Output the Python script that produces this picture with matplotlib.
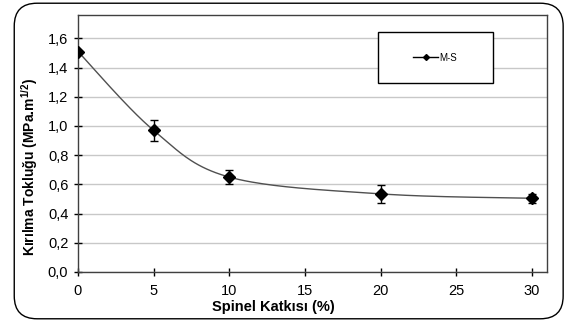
import numpy as np
import matplotlib
matplotlib.use("Agg")
from matplotlib import pyplot as plt
from matplotlib.patches import FancyBboxPatch, Rectangle
from matplotlib.ticker import FuncFormatter

plt.rcParams['font.family'] = ['Liberation Sans', 'DejaVu Sans']
plt.rcParams['mathtext.default'] = 'regular'

# data
spinel = [0, 5, 10, 20, 30]
toughness = [1.51, 0.97, 0.65, 0.535, 0.505]
err = [0.0, 0.07, 0.05, 0.06, 0.03]
series_name = "M-S"


# Excel-like smoothed line (Catmull-Rom through the points)
def smooth(x, y, sx, sy, n=40):
    px = np.asarray(x, float) / sx
    py = np.asarray(y, float) / sy
    P = np.column_stack([px, py])
    P = np.vstack([P[0], P, P[-1]])
    out = []
    for i in range(1, len(P) - 2):
        p0, p1, p2, p3 = P[i - 1], P[i], P[i + 1], P[i + 2]
        c1 = p1 + (p2 - p0) / 6.0
        c2 = p2 - (p3 - p1) / 6.0
        t = np.linspace(0, 1, n)[:, None]
        seg = (1 - t) ** 3 * p1 + 3 * (1 - t) ** 2 * t * c1 + 3 * (1 - t) * t ** 2 * c2 + t ** 3 * p2
        out.append(seg)
    out = np.vstack(out)
    return out[:, 0] * sx, out[:, 1] * sy


fig = plt.figure(figsize=(5.7, 3.22), dpi=100)
box = FancyBboxPatch((0.025, 0.01), 0.963, 0.98, boxstyle="round,pad=0,rounding_size=0.04",
                     transform=fig.transFigure, facecolor='white', edgecolor='black', lw=1.0,
                     mutation_aspect=570 / 322, zorder=-1)
fig.patches.append(box)
ax = fig.add_axes([0.1368, 0.1553, 0.8228, 0.7981])

xs, ys = smooth(spinel, toughness, 31.0, 1.76)
ax.plot(xs, ys, color='#505050', lw=1.0, zorder=3)
ax.errorbar(spinel, toughness, yerr=err, fmt='D', color='black', ms=6, capsize=3, elinewidth=1.0,
            capthick=1.0, zorder=4)

ax.set_xlim(0, 31)
ax.set_ylim(0, 1.76)
ax.set_xticks([0, 5, 10, 15, 20, 25, 30])
ax.set_yticks(np.arange(0, 1.61, 0.2))
ax.yaxis.set_major_formatter(FuncFormatter(lambda v, p: ("%.1f" % v).replace('.', ',')))
ax.grid(axis='y', color='#c8c8c8', lw=1.0)
ax.set_axisbelow(True)
ax.tick_params(direction='inout', length=6, width=1, colors='black', labelsize=10.5)
ax.tick_params(axis='x', pad=6)
ax.tick_params(axis='y', pad=4)
for s in ax.spines.values():
    s.set_color('#404040')
    s.set_linewidth(1.0)

ax.set_xlabel("Spinel Katkısı (%)", fontsize=10.5, fontweight='bold')
ax.xaxis.set_label_coords(0.416, -0.11)
ax.set_ylabel("Kırılma Tokluğu (MPa.m$^{1/2}$)", fontsize=10, fontweight='bold')
ax.yaxis.set_label_coords(-0.08, 0.41)

# legend box
bx0, by0 = (378 - 78) / 469, (272 - 83) / 257
bw, bh = (493 - 378) / 469, (83 - 32) / 257
ax.add_patch(Rectangle((bx0, by0), bw, bh, transform=ax.transAxes, facecolor='white', edgecolor='black',
                       lw=1.0, zorder=5))
ax.plot([], [], '-D', color='black', ms=3, lw=1.0, label=series_name)
ax.legend(loc='center', bbox_to_anchor=(bx0, by0, bw, bh), frameon=False, fontsize=7, handlelength=2.5,
          handletextpad=0.2).set_zorder(6)

fig.savefig("out.png", dpi=100)
